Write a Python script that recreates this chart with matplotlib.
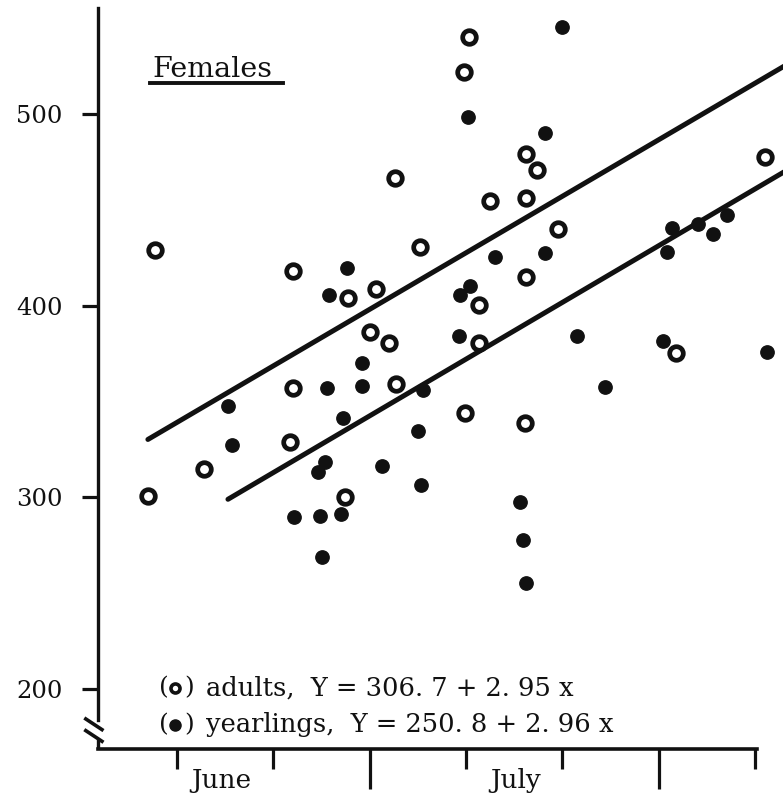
import matplotlib
matplotlib.use("Agg")
import matplotlib.pyplot as plt
import matplotlib.transforms as mtransforms
import numpy as np

# x = days (June 1 ~ 1), y = weight
adult_x = [8.71, 23.04, 28.75, 31.65, 31.03, 33.0, 23.04, 33.73, 22.72, 13.80,
           7.98, 28.43, 41.31, 40.79, 47.22, 48.37, 33.62, 43.49, 47.22, 72.03,
           36.22, 50.55, 47.22, 42.34, 42.34, 62.80, 40.89, 47.12]
adult_y = [429.1, 418.2, 404.1, 408.8, 386.3, 380.6, 357.1, 359.2, 328.9, 314.8,
           300.7, 300.2, 540.3, 522.0, 479.2, 470.9, 466.7, 454.7, 456.3, 477.7,
           430.7, 440.1, 415.0, 400.4, 380.6, 375.4, 344.1, 338.8]

year_x = [28.64, 26.77, 30.20, 30.20, 26.57, 36.53, 16.29, 28.23, 36.01, 16.70,
          26.36, 25.63, 32.28, 36.32, 28.02, 23.14, 25.84, 26.05, 50.96, 41.20,
          49.20, 62.38, 61.86, 65.08, 66.64, 68.09, 41.41, 40.37, 44.01, 49.20,
          40.27, 52.52, 61.45, 72.24, 55.43, 46.60, 46.91, 47.22]
year_y = [419.7, 405.6, 370.2, 358.1, 357.1, 356.1, 347.7, 341.4, 334.7, 327.4,
          318.5, 313.3, 316.4, 306.5, 291.3, 289.8, 290.3, 268.9, 545.5, 498.5,
          490.2, 440.6, 428.1, 442.7, 437.5, 447.4, 410.3, 405.6, 425.5, 427.6,
          384.2, 384.2, 381.6, 375.9, 357.6, 297.6, 277.8, 255.3]

# regression equations as printed
adult_fit = (306.7, 2.95)
year_fit = (250.8, 2.96)

yticks = [200, 300, 400, 500]
xticks_major = [31, 61]
xticks_minor = [11, 21, 41, 51, 71]
month_labels = ["June", "July"]
month_pos = [15.56, 46.19]

XMIN, XMAX = 2.8, 73.9
YMIN, YMAX = 168.7, 555.4

SERIF = ["DejaVu Serif"]
INK = "#111111"

fig = plt.figure(figsize=(7.83, 7.97), dpi=100)
ax = fig.add_axes([98 / 783, 48 / 797, 685 / 783, 741 / 797])
ax.set_xlim(XMIN, XMAX)
ax.set_ylim(YMIN, YMAX)

# regression lines
for (a, b), xs in [(adult_fit, adult_x), (year_fit, year_x)]:
    lx = np.array([min(xs), XMAX + 1])
    ax.plot(lx, a + b * lx, color=INK, lw=3.6, solid_capstyle="round", zorder=2)

# points
ax.plot(year_x, year_y, "o", ms=9.6, color=INK, mec=INK, zorder=3)
ax.plot(adult_x, adult_y, "o", ms=9.8, mfc="white", mec=INK, mew=3.4, zorder=4)

# spines
for s in ["top", "right"]:
    ax.spines[s].set_visible(False)
ax.spines["bottom"].set_linewidth(2.6)
ax.spines["bottom"].set_color(INK)
ax.spines["bottom"].set_bounds(XMIN, 71.15)
ax.spines["left"].set_linewidth(2.4)
ax.spines["left"].set_color(INK)
ax.spines["left"].set_bounds(183.6, YMAX)

# lower piece of the y axis below the break + break marks
bt = mtransforms.blended_transform_factory(ax.transAxes, ax.transData)
ax.plot([0, 0], [YMIN, 174.0], color=INK, lw=2.4, transform=bt, clip_on=False,
        solid_capstyle="butt")
for yc in [181.6, 175.5]:
    ax.plot([-0.020, 0.008], [yc + 3.3, yc - 3.3], color=INK, lw=2.6,
            transform=bt, clip_on=False, solid_capstyle="butt")

ax.set_yticks(yticks)
ax.set_yticklabels([str(v) for v in yticks], family=SERIF, fontsize=17.5)
ax.tick_params(axis="y", direction="out", length=11.5, width=2.3, pad=14,
               colors=INK)

ax.set_xticks(xticks_major)
ax.set_xticks(xticks_minor, minor=True)
ax.set_xticklabels([])
ax.tick_params(axis="x", which="major", direction="out", length=29, width=2.3,
               colors=INK)
ax.tick_params(axis="x", which="minor", direction="out", length=14.5, width=2.3,
               colors=INK)

for lab, xp in zip(month_labels, month_pos):
    ax.text(xp, -0.043, lab, transform=mtransforms.blended_transform_factory(
        ax.transData, ax.transAxes), ha="center", va="center",
        family=SERIF, fontsize=19, color=INK)

# title with underline
ax.text(0.080, 0.907, "Females", transform=ax.transAxes, family=SERIF,
        fontsize=20.5, color=INK, ha="left", va="baseline")
ax.plot([0.0759, 0.2701], [0.899, 0.899], color=INK, lw=2.8,
        transform=ax.transAxes, clip_on=False)

# equation key
rows = [(0.0823, "adults,  Y = 306. 7 + 2. 95 x", "open"),
        (0.0324, "yearlings,  Y = 250. 8 + 2. 96 x", "filled")]
for yy, txt, kind in rows:
    ax.text(0.0895, yy, "(", transform=ax.transAxes, family=SERIF,
            fontsize=18, color=INK, ha="left", va="center")
    if kind == "open":
        ax.plot([0.1124], [yy], "o", ms=6.5, mfc="white", mec=INK, mew=2.6,
                transform=ax.transAxes, clip_on=False)
    else:
        ax.plot([0.1124], [yy], "o", ms=8.0, color=INK,
                transform=ax.transAxes, clip_on=False)
    ax.text(0.1265, yy, ")", transform=ax.transAxes, family=SERIF,
            fontsize=18, color=INK, ha="left", va="center")
    ax.text(0.158, yy, txt, transform=ax.transAxes, family=SERIF,
            fontsize=18.5, color=INK, ha="left", va="center")

fig.savefig("out.png", dpi=100, facecolor="white")
